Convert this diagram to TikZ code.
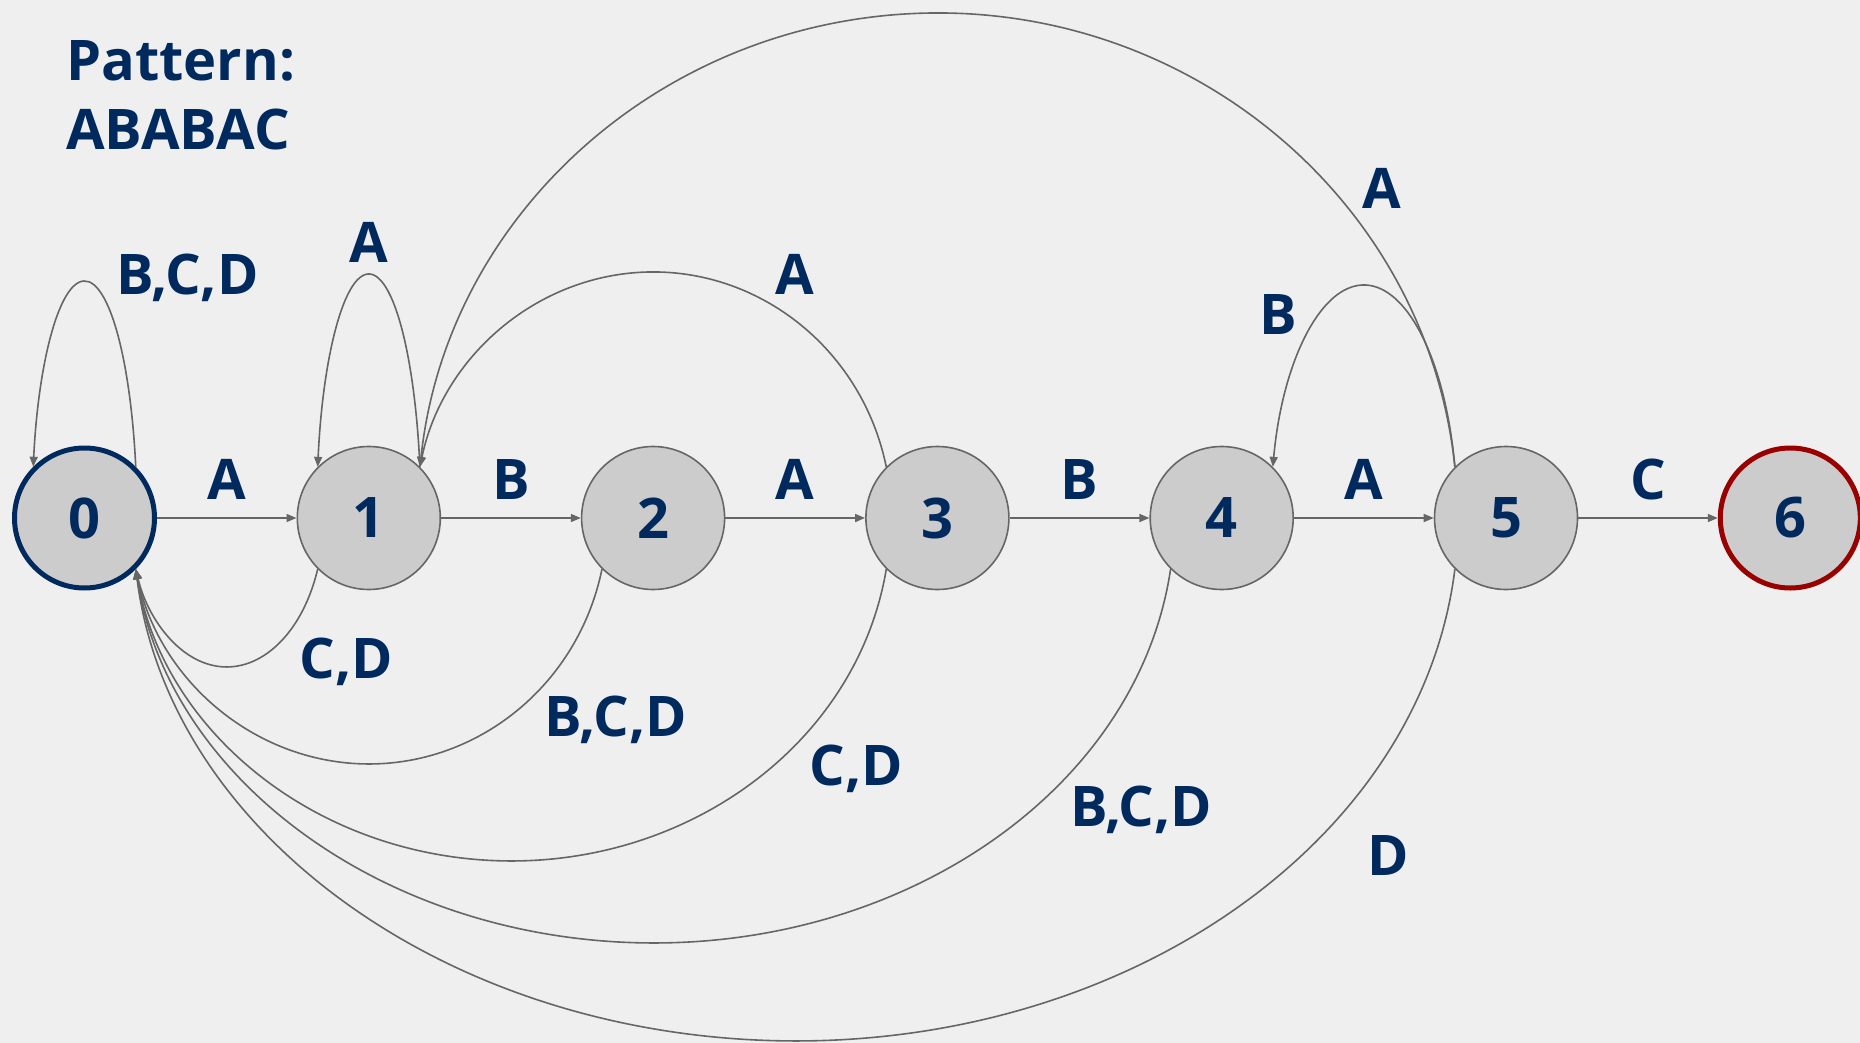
\documentclass[tikz,border=0pt]{standalone}
\usepackage{fontspec}
\setmainfont{Open Sans}
\usetikzlibrary{arrows.meta}
\definecolor{navy}{RGB}{0,42,94}
\definecolor{bggray}{RGB}{239,239,239}
\definecolor{fillgray}{RGB}{204,204,204}
\definecolor{edgegray}{RGB}{102,102,102}
\definecolor{darkred}{RGB}{153,0,0}

% elliptic arc leaving a node anchor and landing on another one;
% #1 = half distance between the anchors, #2 = vertical offset of the
% anchors from the arc centre line, #3 = vertical radius
\newcommand{\uparc}[3]{arc[start angle={-asin(#2/#3)}, end angle={-180+asin(#2/#3)},
  x radius={#1/cos(asin(#2/#3))}, y radius=#3]}
\newcommand{\downarc}[3]{arc[start angle={asin(#2/#3)}, end angle={180-asin(#2/#3)},
  x radius={#1/cos(asin(#2/#3))}, y radius=#3]}

\begin{document}
\begin{tikzpicture}[x=1pt,y=-1pt,
  stnode/.style={circle, draw=edgegray, fill=fillgray, line width=1.6pt,
    minimum size=143pt, inner sep=0pt, text=navy,
    font=\fontsize{56}{56}\selectfont\bfseries},
  startnode/.style={stnode, draw=navy, line width=5pt, minimum size=140pt},
  acceptnode/.style={stnode, draw=darkred, line width=5pt, minimum size=140pt},
  link/.style={draw=edgegray, line width=1.6pt, -{Triangle[length=10pt,width=8pt]}},
  lbl/.style={text=navy, font=\fontsize{56}{56}\selectfont\bfseries,
    inner sep=0pt, anchor=base},
]
% canvas
\fill[bggray] (0,0) rectangle (1860,1043);
\useasboundingbox (0,0) rectangle (1860,1043);

% title
\node[lbl, anchor=base west] (title1) at (66,81) {Pattern:};
\node[lbl, anchor=base west] (title2) at (66,150) {ABABAC};

% states
\node[startnode]  (n0) at (84.5,518)   {0};
\node[stnode]     (n1) at (368.8,518)  {1};
\node[stnode]     (n2) at (653.1,518)  {2};
\node[stnode]     (n3) at (937.4,518)  {3};
\node[stnode]     (n4) at (1221.7,518) {4};
\node[stnode]     (n5) at (1506,518)   {5};
\node[acceptnode] (n6) at (1790.3,518) {6};

% forward transitions
\draw[link] (n0) -- (n1);
\draw[link] (n1) -- (n2);
\draw[link] (n2) -- (n3);
\draw[link] (n3) -- (n4);
\draw[link] (n4) -- (n5);
\draw[link] (n5) -- (n6);

% self loops
\draw[link] (n0.45) \uparc{51.27}{51.27}{237};
\draw[link] (n1.45) \uparc{51.12}{51.12}{244};

% back transitions above
\draw[link] (n3.135) \uparc{233.18}{51.12}{246};
\draw[link] (n5.135) \uparc{517.48}{51.12}{505};
\draw[link] (n5.135) \uparc{91.03}{51.12}{233};

% back transitions below, all to state 0
\draw[link] (n1.-135) \downarc{90.95}{51.2}{149};
\draw[link] (n2.-135) \downarc{233.1}{51.2}{246};
\draw[link] (n3.-135) \downarc{375.26}{51.2}{343};
\draw[link] (n4.-135) \downarc{517.4}{51.2}{425};
\draw[link] (n5.-135) \downarc{659.56}{51.2}{523};

% transition labels
\node[lbl] (lA01) at (226.6,499.2) {A};
\node[lbl] (lB12) at (511.2,499.2) {B};
\node[lbl] (lA23) at (794.8,499.2) {A};
\node[lbl] (lB34) at (1079.4,499.2) {B};
\node[lbl] (lA45) at (1364.1,499.2) {A};
\node[lbl] (lC56) at (1648.8,499.2) {C};
\node[lbl] (lL0)  at (187.4,294) {B,C,D};
\node[lbl] (lL1)  at (369,262) {A};
\node[lbl] (lA31) at (794.8,294) {A};
\node[lbl] (lA51) at (1382,209) {A};
\node[lbl] (lB54) at (1278.7,334) {B};
\node[lbl] (lD10) at (346.4,678) {C,D};
\node[lbl] (lD20) at (615.6,736.5) {B,C,D};
\node[lbl] (lD30) at (856.4,785) {C,D};
\node[lbl] (lD40) at (1141.1,826.6) {B,C,D};
\node[lbl] (lD50) at (1387.9,875) {D};
\end{tikzpicture}
\end{document}
